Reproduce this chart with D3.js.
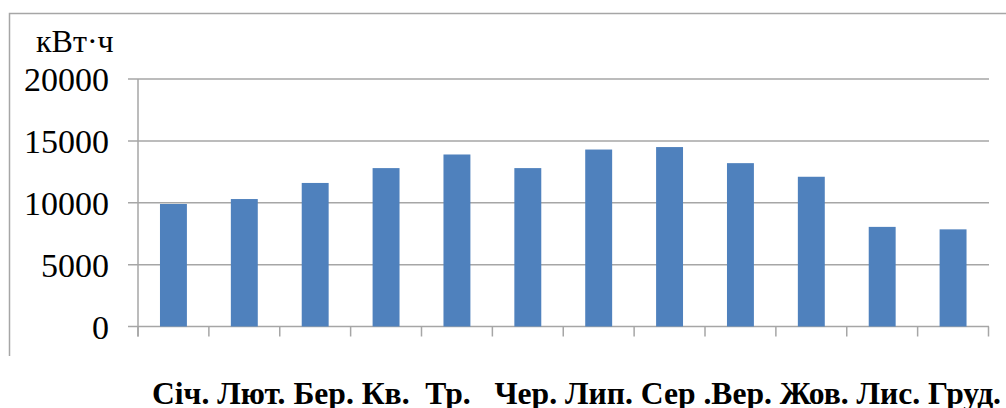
<!DOCTYPE html>
<html>
<head>
<meta charset="utf-8">
<script src="https://cdn.jsdelivr.net/npm/d3@7"></script>
<style>
  html, body { margin: 0; padding: 0; background: #fff; }
  svg { display: block; }
</style>
</head>
<body>
<svg id="chart" width="1006" height="408"></svg>
<script>
// Monthly electricity consumption, kWh
const months = ["Січ.", "Лют.", "Бер.", "Кв. ", "Тр.  ", "Чер.", "Лип.", "Сер", ".Вер.", "Жов.", "Лис.", "Груд."];
const consumption = [9900, 10300, 11600, 12800, 13900, 12800, 14300, 14500, 13200, 12100, 8050, 7850];
const yTicks = [0, 5000, 10000, 15000, 20000];
const unitLabel = "кВт·ч";

const serif = "'Liberation Serif', 'DejaVu Serif', serif";
const svg = d3.select("#chart");
const gridColor = "#a6a6a6";

const x = d3.scaleBand()
  .domain(d3.range(months.length))
  .range([138, 988.5])
  .paddingInner(0.62)
  .paddingOuter(0.31);

const y = d3.scaleLinear()
  .domain([0, 20000])
  .range([326.5, 79]);

// frame around the chart (top and left edges visible)
svg.append("path")
  .attr("d", "M9.5,356 V13.5 H1006")
  .attr("fill", "none")
  .attr("stroke", gridColor)
  .attr("stroke-width", 1.5);

// horizontal gridlines with outer tick stubs
svg.append("g")
  .selectAll("line")
  .data(yTicks)
  .join("line")
  .attr("x1", 128)
  .attr("x2", 989)
  .attr("y1", d => y(d))
  .attr("y2", d => y(d))
  .attr("stroke", gridColor)
  .attr("stroke-width", 1.5);

// y axis line
svg.append("line")
  .attr("x1", 138).attr("x2", 138)
  .attr("y1", y(20000)).attr("y2", y(0) + 10)
  .attr("stroke", gridColor)
  .attr("stroke-width", 1.5);

// x axis ticks at category boundaries
const step = x.step();
const x0 = x.range()[0];
svg.append("g")
  .selectAll("line")
  .data(d3.range(months.length + 1))
  .join("line")
  .attr("x1", i => x0 + i * step)
  .attr("x2", i => x0 + i * step)
  .attr("y1", y(0))
  .attr("y2", y(0) + 10)
  .attr("stroke", gridColor)
  .attr("stroke-width", 1.5);

// y tick labels
svg.append("g")
  .selectAll("text")
  .data(yTicks)
  .join("text")
  .attr("x", 109)
  .attr("y", d => y(d) + 12)
  .attr("text-anchor", "end")
  .attr("font-family", serif)
  .attr("font-size", 34)
  .attr("fill", "#000")
  .text(d => d);

// unit label
svg.append("text")
  .attr("x", 36)
  .attr("y", 52)
  .attr("font-family", serif)
  .attr("font-size", 32)
  .attr("fill", "#000")
  .text(unitLabel);

// bars
svg.append("g")
  .selectAll("rect")
  .data(consumption)
  .join("rect")
  .attr("x", (d, i) => x(i))
  .attr("width", x.bandwidth())
  .attr("y", d => y(d))
  .attr("height", d => y(0) - y(d))
  .attr("fill", "#4f81bd");

// month captions written as one line under the axis
svg.append("text")
  .attr("x", 152)
  .attr("y", 404)
  .attr("font-family", serif)
  .attr("font-size", 31.6)
  .attr("font-weight", "bold")
  .attr("fill", "#000")
  .style("white-space", "pre")
  .attr("xml:space", "preserve")
  .text(months.join(" "));
</script>
</body>
</html>
